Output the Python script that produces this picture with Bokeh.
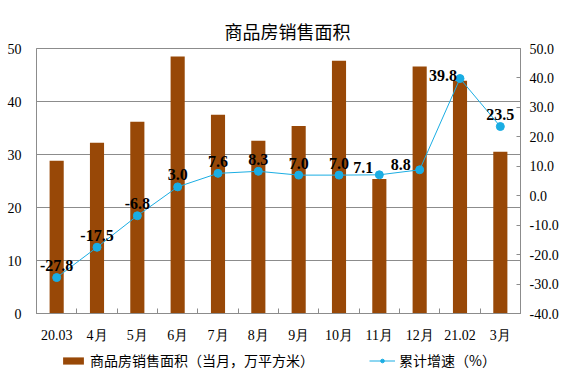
from bokeh.plotting import figure
from bokeh.layouts import column
from bokeh.models import (Range1d, LinearAxis, FixedTicker, Legend, LegendItem,
                          ColumnDataSource, NumeralTickFormatter)
from bokeh.core.properties import value
from bokeh.embed import file_html
from bokeh.resources import INLINE

# ---- data ----
categories = ["20.03", "4月", "5月", "6月", "7月", "8月", "9月", "10月", "11月", "12月", "21.02", "3月"]
sales_area = [28.8, 32.2, 36.2, 48.5, 37.5, 32.6, 35.4, 47.7, 25.4, 46.6, 43.9, 30.5]
growth = [-27.8, -17.5, -6.8, 3.0, 7.6, 8.3, 7.0, 7.0, 7.1, 8.8, 39.8, 23.5]
left_ticks = [0, 10, 20, 30, 40, 50]
right_ticks = [-40, -30, -20, -10, 0, 10, 20, 30, 40, 50]
title_text = "商品房销售面积"
bar_name = "商品房销售面积（当月，万平方米）"
line_name = "累计增速（%）"

# ---- styling ----
BAR_COLOR = "#984807"
LINE_COLOR = "#1AADE3"
GRID_COLOR = "#8C8C8C"
SERIF = "Liberation Serif"
CJK = "Noto Sans CJK SC"
label_dx = [0, 0, 0, 0, 0, 0, 0, 0, -16, -19, -17, 0]
label_dy = [-12, -12, -12, -12, -12, -12, -12, -12, -7, -5, -3, -12]

idx = list(range(len(categories)))
src = ColumnDataSource(dict(
    x=idx, area=sales_area, growth=growth,
    lbl=["%.1f" % g for g in growth], dx=label_dx, dy=label_dy,
))

p = figure(frame_width=484, frame_height=265, output_backend="svg", toolbar_location=None,
           x_range=Range1d(-0.5, len(categories) - 0.5),
           y_range=Range1d(left_ticks[0], left_ticks[-1]),
           min_border_left=36, min_border_right=40, min_border_top=48,
           min_border_bottom=37, title=title_text)
p.extra_y_ranges = {"pct": Range1d(right_ticks[0], right_ticks[-1])}

p.title.align = "left"
p.title.offset = 188
p.title.text_font = CJK
p.title.text_font_size = "18px"
p.title.text_font_style = "normal"
p.title.text_color = "#000000"

p.outline_line_color = GRID_COLOR
p.outline_line_width = 1
p.background_fill_color = "white"
p.border_fill_color = "white"

# axes
xa = p.xaxis[0]
xa.ticker = FixedTicker(ticks=idx, minor_ticks=[i - 0.5 for i in range(len(categories) + 1)])
xa.major_label_overrides = {i: c for i, c in enumerate(categories)}
xa.major_tick_line_color = None
xa.minor_tick_in = 5
xa.minor_tick_out = 0
xa.minor_tick_line_color = GRID_COLOR
xa.axis_line_color = GRID_COLOR
xa.major_label_text_font = SERIF
xa.major_label_text_font_size = "14px"
xa.major_label_text_color = "#000000"
xa.major_label_standoff = 8

ya = p.yaxis[0]
ya.ticker = FixedTicker(ticks=left_ticks)
ya.major_tick_line_color = None
ya.minor_tick_line_color = None
ya.axis_line_color = GRID_COLOR
ya.major_label_text_font = SERIF
ya.major_label_text_font_size = "14px"
ya.major_label_text_color = "#000000"
ya.major_label_standoff = 9

ra = LinearAxis(y_range_name="pct", ticker=FixedTicker(ticks=right_ticks),
                formatter=NumeralTickFormatter(format="0.0"))
ra.major_tick_in = 4
ra.major_tick_out = 0
ra.major_tick_line_color = GRID_COLOR
ra.minor_tick_line_color = None
ra.axis_line_color = GRID_COLOR
ra.major_label_text_font = SERIF
ra.major_label_text_font_size = "14px"
ra.major_label_text_color = "#000000"
ra.major_label_standoff = 9
p.add_layout(ra, "right")

p.xgrid.grid_line_color = None
p.ygrid.ticker = FixedTicker(ticks=left_ticks)
p.ygrid.grid_line_color = GRID_COLOR
p.ygrid.grid_line_width = 1

# glyphs
bars = p.vbar(x="x", top="area", width=0.35, bottom=0, source=src,
              fill_color=BAR_COLOR, line_color=None)
line = p.line(x="x", y="growth", source=src, y_range_name="pct",
              line_color=LINE_COLOR, line_width=1)
dots = p.scatter(x="x", y="growth", source=src, y_range_name="pct", size=8,
                 fill_color=LINE_COLOR, line_color=LINE_COLOR)
p.text(x="x", y="growth", text="lbl", source=src, y_range_name="pct",
       x_offset="dx", y_offset="dy", text_align="center", text_baseline="alphabetic",
       text_font=value(SERIF), text_font_style="bold", text_font_size="16px",
       text_color="#000000")

# ---- legend strip (separate small figure below the chart; its data lies outside its view) ----
lf = figure(width=560, height=20, output_backend="svg", toolbar_location=None,
            x_range=Range1d(-0.5, len(categories) - 0.5), y_range=Range1d(1000, 1001),
            min_border=0)
lf.axis.visible = False
lf.grid.visible = False
lf.outline_line_color = None
lf.border_fill_color = "white"
leg_bar = lf.vbar(x="x", top="area", width=0.35, bottom=0, source=src,
                  fill_color=BAR_COLOR, line_color=None)
leg_line = lf.line(x="x", y="growth", source=src, line_color=LINE_COLOR, line_width=1)
leg_dot = lf.scatter(x="x", y="growth", source=src, size=6,
                     fill_color=LINE_COLOR, line_color=LINE_COLOR)

legend = Legend(items=[LegendItem(label=bar_name, renderers=[leg_bar]),
                       LegendItem(label=line_name, renderers=[leg_line, leg_dot])],
                orientation="horizontal", location=(24, 0),
                glyph_width=26, glyph_height=9, label_standoff=4, spacing=55,
                padding=0, margin=0, border_line_color=None,
                background_fill_alpha=0, label_height=18,
                label_text_font=CJK, label_text_font_size="14px",
                label_text_color="#000000")
lf.add_layout(legend, "center")

layout = column(p, lf, spacing=0)
open("out.html", "w").write(file_html(layout, INLINE))
